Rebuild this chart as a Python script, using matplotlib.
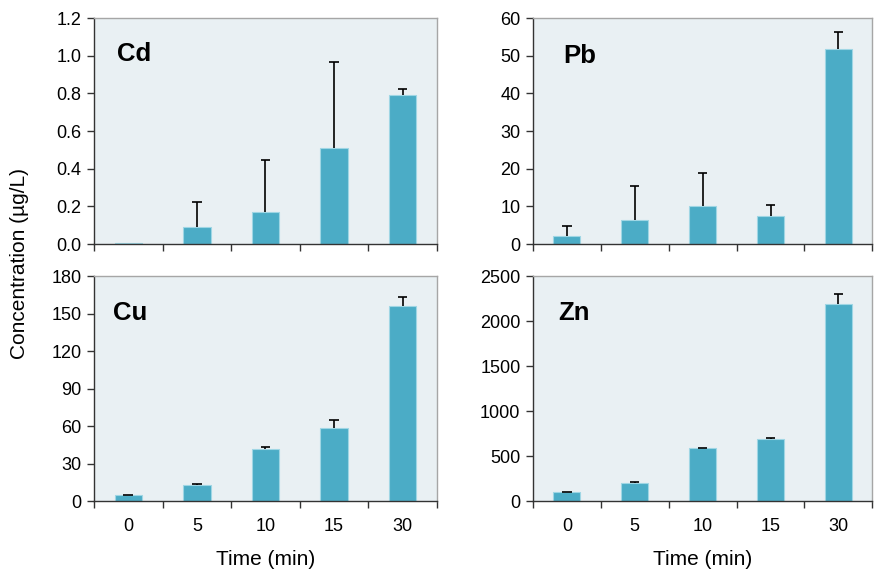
import numpy as np
import matplotlib
matplotlib.use("Agg")
import matplotlib.pyplot as plt

plt.rcParams['font.family'] = ['Liberation Sans', 'DejaVu Sans']

# data
times = ['0', '5', '10', '15', '30']

cd_mean = [0.003, 0.09, 0.17, 0.51, 0.79]
cd_err = [0.0, 0.135, 0.275, 0.455, 0.035]

pb_mean = [2.1, 6.5, 10.0, 7.5, 51.8]
pb_err = [2.6, 9.0, 8.8, 2.9, 4.6]

cu_mean = [4.8, 12.8, 42.0, 58.3, 156.0]
cu_err = [0.3, 1.0, 1.4, 6.5, 7.5]

zn_mean = [98, 203, 590, 695, 2188]
zn_err = [4, 4, 4, 8, 115]

panels = [
    ('Cd', cd_mean, cd_err, (0, 1.2), np.arange(0, 1.21, 0.2), '%.1f', [0.1074, 0.5734, 0.392, 0.395], (0.067, 0.84)),
    ('Pb', pb_mean, pb_err, (0, 60), np.arange(0, 61, 10), '%d', [0.609, 0.5734, 0.388, 0.395], (0.088, 0.83)),
    ('Cu', cu_mean, cu_err, (0, 180), np.arange(0, 181, 30), '%d', [0.1074, 0.1241, 0.392, 0.393], (0.055, 0.835)),
    ('Zn', zn_mean, zn_err, (0, 2500), np.arange(0, 2501, 500), '%d', [0.609, 0.1241, 0.388, 0.393], (0.076, 0.835)),
]

bar_color = '#4bacc6'
bg_color = '#e9f0f3'

fig = plt.figure(figsize=(8.75, 5.72), dpi=100)

for i, (name, mean, err, ylim, yticks, fmt, pos, txt) in enumerate(panels):
    ax = fig.add_axes(pos)
    ax.set_facecolor(bg_color)
    x = np.arange(len(times))
    mean = np.array(mean, dtype=float)
    top = mean + np.array(err, dtype=float)
    ax.bar(x, mean, width=0.4, color=bar_color, edgecolor='#9fd6e4', linewidth=0.8, zorder=2)
    # upper error bars only
    shown = np.array(err) > 0
    ax.vlines(x[shown], mean[shown], top[shown], color='black', linewidth=1.2, zorder=3)
    ax.hlines(top[shown], x[shown] - 0.07, x[shown] + 0.07, color='black', linewidth=1.2, zorder=3)
    ax.set_xlim(-0.5, len(times) - 0.5)
    ax.set_ylim(*ylim)
    ax.set_yticks(yticks)
    ax.set_yticklabels([fmt % v for v in yticks])
    ax.set_xticks(np.arange(-0.5, len(times), 1.0))
    ax.set_xticklabels([])
    ax.set_xticks(x, minor=True)
    ax.tick_params(axis='x', which='major', direction='out', length=5, width=1, color='#333333')
    ax.tick_params(axis='x', which='minor', length=0, pad=12, labelsize=13)
    ax.tick_params(axis='y', direction='out', length=5, width=1, color='#333333', labelsize=13, pad=4)
    if i >= 2:
        ax.set_xticklabels(times, minor=True)
        ax.set_xlabel('Time (min)', fontsize=15, labelpad=11)
    for s in ['top', 'right']:
        ax.spines[s].set_color('#a6a6a6')
        ax.spines[s].set_linewidth(1)
    for s in ['left', 'bottom']:
        ax.spines[s].set_color('#333333')
        ax.spines[s].set_linewidth(1)
    ax.text(txt[0], txt[1], name, transform=ax.transAxes, fontsize=18.5, fontweight='bold',
            ha='left', va='center')

fig.text(0.022, 0.54, 'Concentration (µg/L)', rotation=90, fontsize=15, ha='center', va='center')

fig.savefig('out.png', dpi=100)
